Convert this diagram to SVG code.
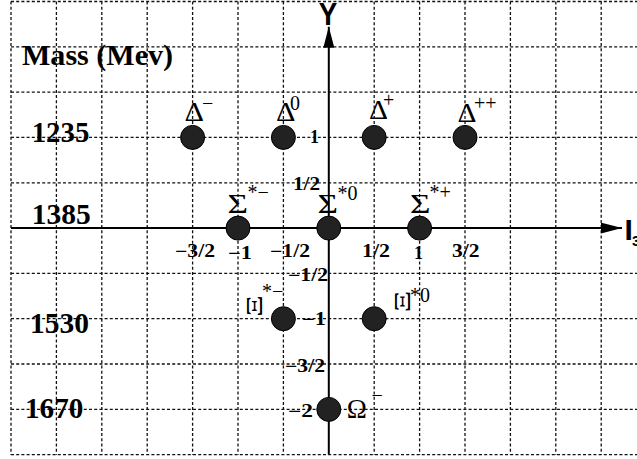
<svg xmlns="http://www.w3.org/2000/svg" width="637" height="459" viewBox="0 0 637 459">
<style>
.grid line{stroke:#111;stroke-width:1.3;stroke-dasharray:3 2.2}
.axis{stroke:#000;stroke-width:2;fill:none}
.dot{fill:#222;stroke:#000;stroke-width:1}
.pl{font-family:"Liberation Serif","Times New Roman",serif;font-size:27px;fill:#000}
.xi{font-family:"Liberation Serif","Times New Roman",serif;font-size:24px;fill:#000}
.sup{font-family:"Liberation Serif","Times New Roman",serif;font-size:20px;fill:#000}
.mass{font-family:"Liberation Serif","Times New Roman",serif;font-weight:bold;font-size:29px;fill:#000}
.tk{font-family:"Liberation Serif","Times New Roman",serif;font-weight:bold;font-size:18px;fill:#000}
.ax{font-family:"Liberation Sans",Arial,sans-serif;font-weight:bold;fill:#000}
</style>
<defs>
<marker id="arr" markerUnits="userSpaceOnUse" markerWidth="21" markerHeight="11" refX="21" refY="5.5" orient="auto">
<path d="M0,0 L21,5.5 L0,11 z" fill="#000"/>
</marker>
</defs>
<rect width="637" height="459" fill="#fff"/>
<g class="grid">
<line x1="11" y1="1.5" x2="11" y2="454.7"/>
<line x1="56.4" y1="1.5" x2="56.4" y2="454.7"/>
<line x1="101.8" y1="1.5" x2="101.8" y2="454.7"/>
<line x1="147.2" y1="1.5" x2="147.2" y2="454.7"/>
<line x1="192.6" y1="1.5" x2="192.6" y2="454.7"/>
<line x1="238" y1="1.5" x2="238" y2="454.7"/>
<line x1="283.4" y1="1.5" x2="283.4" y2="454.7"/>
<line x1="374.2" y1="1.5" x2="374.2" y2="454.7"/>
<line x1="419.6" y1="1.5" x2="419.6" y2="454.7"/>
<line x1="465" y1="1.5" x2="465" y2="454.7"/>
<line x1="510.4" y1="1.5" x2="510.4" y2="454.7"/>
<line x1="555.8" y1="1.5" x2="555.8" y2="454.7"/>
<line x1="601.2" y1="1.5" x2="601.2" y2="454.7"/>
<line x1="11" y1="1.5" x2="637" y2="1.5"/>
<line x1="11" y1="46.8" x2="637" y2="46.8"/>
<line x1="11" y1="92.1" x2="637" y2="92.1"/>
<line x1="11" y1="137.4" x2="637" y2="137.4"/>
<line x1="11" y1="182.8" x2="637" y2="182.8"/>
<line x1="11" y1="273.4" x2="637" y2="273.4"/>
<line x1="11" y1="318.7" x2="637" y2="318.7"/>
<line x1="11" y1="364" x2="637" y2="364"/>
<line x1="11" y1="409.4" x2="637" y2="409.4"/>
<line x1="11" y1="454.7" x2="637" y2="454.7"/>
</g>
<g id="connectors">
<line class="axis" x1="11" y1="228.1" x2="622" y2="228.1" marker-end="url(#arr)"/>
<line class="axis" x1="328.8" y1="454.7" x2="328.8" y2="26.7" marker-end="url(#arr)"/>
</g>
<g id="axis-labels">
<text class="ax" x="318.7" y="24.5" font-size="31" textLength="18.5" lengthAdjust="spacingAndGlyphs">Y</text>
<text class="ax" x="624.5" y="240" font-size="30">I</text>
<text class="ax" x="632" y="246" font-size="15">3</text>
<text class="mass" x="22" y="65" font-size="27" textLength="151" lengthAdjust="spacingAndGlyphs">Mass (Mev)</text>
<text class="mass" x="31.7" y="141.7" textLength="57.6" lengthAdjust="spacingAndGlyphs">1235</text>
<text class="mass" x="31.7" y="224" textLength="59" lengthAdjust="spacingAndGlyphs">1385</text>
<text class="mass" x="30" y="333" textLength="59" lengthAdjust="spacingAndGlyphs">1530</text>
<text class="mass" x="25" y="418" textLength="58.3" lengthAdjust="spacingAndGlyphs">1670</text>
<text class="tk" x="310" y="143" font-size="17">1</text>
<text class="tk" x="293" y="190" textLength="27" lengthAdjust="spacingAndGlyphs">1/2</text>
<text class="tk" x="288" y="281" textLength="40" lengthAdjust="spacingAndGlyphs">−1/2</text>
<text class="tk" x="302" y="325" textLength="24" lengthAdjust="spacingAndGlyphs">−1</text>
<text class="tk" x="285" y="372" textLength="40" lengthAdjust="spacingAndGlyphs">−3/2</text>
<text class="tk" x="288" y="417" textLength="25" lengthAdjust="spacingAndGlyphs">−2</text>
<text class="tk" x="175" y="257" textLength="40" lengthAdjust="spacingAndGlyphs">−3/2</text>
<text class="tk" x="228" y="259" textLength="24" lengthAdjust="spacingAndGlyphs">−1</text>
<text class="tk" x="270" y="257" textLength="40" lengthAdjust="spacingAndGlyphs">−1/2</text>
<text class="tk" x="362" y="257" textLength="28" lengthAdjust="spacingAndGlyphs">1/2</text>
<text class="tk" x="414" y="259">1</text>
<text class="tk" x="452" y="257" textLength="27.5" lengthAdjust="spacingAndGlyphs">3/2</text>
</g>
<g id="delta-minus">
<circle class="dot" cx="192.6" cy="137.4" r="12"/>
<text class="pl" x="184.5" y="121" textLength="19.5" lengthAdjust="spacingAndGlyphs">Δ</text>
<text class="sup" x="202" y="110">−</text>
</g>
<g id="delta-zero">
<circle class="dot" cx="283.4" cy="137.4" r="12"/>
<text class="pl" x="276" y="121" textLength="19.5" lengthAdjust="spacingAndGlyphs">Δ</text>
<text class="sup" x="290" y="110">0</text>
</g>
<g id="delta-plus">
<circle class="dot" cx="374.2" cy="137.4" r="12"/>
<text class="pl" x="369" y="119" textLength="19" lengthAdjust="spacingAndGlyphs">Δ</text>
<text class="sup" x="383" y="107">+</text>
</g>
<g id="delta-plusplus">
<circle class="dot" cx="465" cy="137.4" r="12"/>
<text class="pl" x="457.5" y="122" textLength="19" lengthAdjust="spacingAndGlyphs">Δ</text>
<text class="sup" x="474" y="110">++</text>
</g>
<g id="sigma-minus">
<circle class="dot" cx="238" cy="228.1" r="12"/>
<text class="pl" x="227.5" y="213" textLength="20.5" lengthAdjust="spacingAndGlyphs">Σ</text>
<text class="sup" x="247.5" y="199">*−</text>
</g>
<g id="sigma-zero">
<circle class="dot" cx="328.8" cy="228.1" r="12"/>
<text class="pl" x="317.5" y="213" textLength="20.5" lengthAdjust="spacingAndGlyphs">Σ</text>
<text class="sup" x="337.5" y="200">*0</text>
</g>
<g id="sigma-plus">
<circle class="dot" cx="419.6" cy="228.1" r="12"/>
<text class="pl" x="410" y="213" textLength="20.5" lengthAdjust="spacingAndGlyphs">Σ</text>
<text class="sup" x="429.5" y="199">*+</text>
</g>
<g id="xi-minus">
<circle class="dot" cx="283.4" cy="318.7" r="12"/>
<text class="xi" transform="translate(261.5,306) rotate(-90) scale(1.4,1)" text-anchor="middle">Ξ</text>
<text class="sup" x="262" y="298">*−</text>
</g>
<g id="xi-zero">
<circle class="dot" cx="374.2" cy="318.7" r="12"/>
<text class="xi" transform="translate(410,301.5) rotate(-90) scale(1.4,1)" text-anchor="middle">Ξ</text>
<text class="sup" x="410" y="302">*0</text>
</g>
<g id="omega-minus">
<circle class="dot" cx="328.8" cy="409.4" r="12"/>
<text class="pl" x="346.7" y="418.3">Ω</text>
<text class="sup" x="371.5" y="401.5">−</text>
</g>
</svg>
